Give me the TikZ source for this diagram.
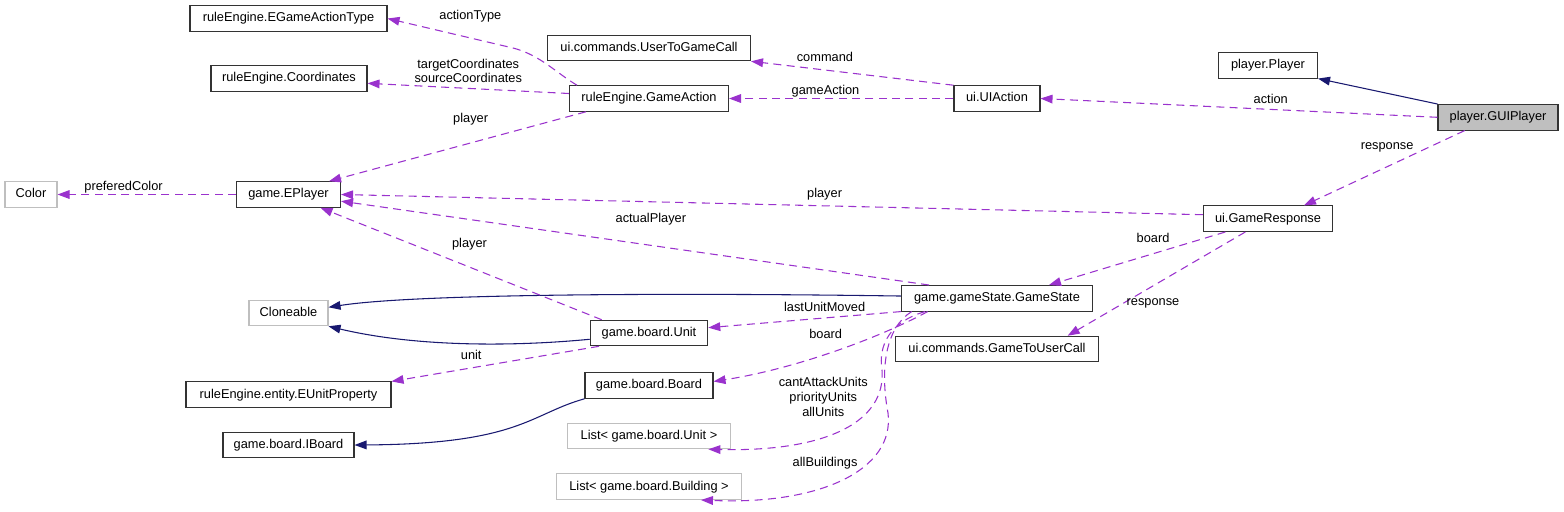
\documentclass[tikz,border=0pt]{standalone}
\usepackage{fontspec}
\setmainfont{Liberation Sans}
\usetikzlibrary{arrows.meta}
\definecolor{cEdge}{HTML}{9A32CD}
\definecolor{cInh}{HTML}{191970}
\definecolor{cGrey}{HTML}{BFBFBF}
\newlength{\pxu}\setlength{\pxu}{0.75pt}
\tikzset{
  base/.style   ={draw=black!80, line width=0.8pt, font=\fontsize{9.6}{11}\selectfont,
                  minimum height=25.5\pxu, inner sep=0pt, text height=7pt, text depth=2pt},
  cls/.style    ={base},
  ext/.style    ={base, draw=cGrey},
  cur/.style    ={base, fill=cGrey},
  usage/.style  ={draw=cEdge, line width=0.8pt, dash pattern=on 6pt off 4pt,
                  -{Triangle[length=9pt,width=6.5pt]}},
  inherit/.style={draw=cInh, line width=0.8pt, -{Triangle[length=9pt,width=6.5pt]}},
  lbl/.style    ={font=\fontsize{9.6}{11}\selectfont, inner sep=1pt, align=center},
}

\begin{document}
\begin{tikzpicture}[x=0.75pt, y=-0.75pt]
\useasboundingbox (0,0) rectangle (1564,511);

\node[cls, minimum width=197\pxu] (eatype)  at (288.5,18.5) {ruleEngine.EGameActionType};
\node[cls, minimum width=156\pxu] (coords)  at (289,78.3)   {ruleEngine.Coordinates};
\node[ext, minimum width=52\pxu]  (color)   at (31,194.5)   {Color};
\node[cls, minimum width=104\pxu] (eplayer) at (288.5,194.5) {game.EPlayer};
\node[ext, minimum width=79\pxu]  (clone)   at (288.5,313)  {Cloneable};
\node[cls, minimum width=205\pxu] (eunit)   at (288.5,394.7) {ruleEngine.entity.EUnitProperty};
\node[cls, minimum width=131\pxu] (iboard)  at (288.5,445)  {game.board.IBoard};

\node[cls, minimum width=203\pxu] (u2g)     at (649,48)     {ui.commands.UserToGameCall};
\node[cls, minimum width=159\pxu] (gaction) at (649,98.5)   {ruleEngine.GameAction};
\node[cls, minimum width=117.5\pxu] (unit)  at (649,333)    {game.board.Unit};
\node[cls, minimum width=128\pxu] (board)   at (649,385.5)  {game.board.Board};
\node[ext, minimum width=163\pxu] (lunit)   at (649,436)    {List< game.board.Unit >};
\node[ext, minimum width=185.5\pxu] (lbuild) at (649,486.7) {List< game.board.Building >};

\node[cls, minimum width=86\pxu]  (uiact)   at (997,98.5)   {ui.UIAction};
\node[cls, minimum width=191\pxu] (gstate)  at (997,298.3)  {game.gameState.GameState};
\node[cls, minimum width=203\pxu] (g2u)     at (997,349)    {ui.commands.GameToUserCall};

\node[cls, minimum width=99\pxu]  (player)  at (1268,65.3)  {player.Player};
\node[cls, minimum width=129\pxu] (gresp)   at (1268,218.7) {ui.GameResponse};
\node[cur, minimum width=120\pxu] (gui)     at (1498,117.3) {player.GUIPlayer};

\draw[inherit] (gui.north west) -- (player.south east);
\draw[inherit] ([yshift=1.7pt]gstate.west) .. controls (700,293) and (420,293) .. ([yshift=4.3pt]clone.east);
\draw[inherit] ([yshift=-4.7pt]unit.west) .. controls (520,346) and (420,348) .. (clone.south east);
\draw[inherit] (board.south west) .. controls (530,414) and (520,444) .. (iboard.east);

\draw[usage] (gui.west) -- node[lbl, pos=0.42, yshift=7.8pt] {action} (uiact.east);
\draw[usage] ([xshift=-25pt]gui.south) -- node[lbl, pos=0.25, xshift=-28pt, yshift=1.5pt] {response} ([xshift=27pt]gresp.north);
\draw[usage] (uiact.north west) -- node[lbl, pos=0.635, yshift=9.7pt] {command} (u2g.south east);
\draw[usage] (uiact.west) -- node[lbl, pos=0.57, yshift=5.6pt] {gameAction} (gaction.east);
\draw[usage] ([xshift=6pt]gaction.north west) .. controls (555,72) and (540,55) .. (513,48)
   -- node[lbl, pos=0.34, yshift=16.5pt] {actionType} (eatype.east);
\draw[usage] ([yshift=3.75pt]gaction.west) -- node[lbl, pos=0.5, yshift=13pt] {targetCoordinates\\sourceCoordinates} ([yshift=-3.75pt]coords.east);
\draw[usage] ([xshift=12.75pt]gaction.south west) -- node[lbl, pos=0.449, yshift=17.8pt] {player} ([xshift=-9pt]eplayer.north east);
\draw[usage] (eplayer.west) -- node[lbl, pos=0.63, yshift=5.5pt] {preferedColor} (color.east);
\draw[usage] ([yshift=3pt]gresp.west) -- node[lbl, pos=0.439, yshift=8.9pt] {player} (eplayer.east);
\draw[usage] ([xshift=21pt]gstate.north west) -- node[lbl, pos=0.473, yshift=20pt] {actualPlayer} ([yshift=-5pt]eplayer.east);
\draw[usage] ([xshift=9pt]unit.north west) -- node[lbl, pos=0.47, yshift=17.4pt] {player} ([xshift=24pt]eplayer.south);
\draw[usage] ([xshift=-32pt]gresp.south) -- node[lbl, pos=0.41, yshift=11.7pt] {board} ([xshift=39pt]gstate.north);
\draw[usage] ([xshift=-17pt]gresp.south) -- node[lbl, pos=0.52, yshift=-12.8pt] {response} ([xshift=53pt]g2u.north);
\draw[usage] (gstate.south west) -- node[lbl, pos=0.396, yshift=8pt] {lastUnitMoved} ([yshift=4pt]unit.east);
\draw[usage] ([xshift=7pt]unit.south west) -- node[lbl, pos=0.616, yshift=9.9pt] {unit} (eunit.north east);
\draw[usage] ([xshift=20pt]gstate.south west) .. controls (885,335) and (800,368) ..
   node[lbl, pos=0.55, yshift=15pt] {board} ([yshift=3pt]board.east);
\draw[usage] ([xshift=18pt]gstate.south west) .. controls (890,322) and (878,345) .. (882,370)
   .. controls (886,420) and (830,452) .. node[lbl, pos=0.3, xshift=-34.5pt, yshift=9.5pt] {cantAttackUnits\\priorityUnits\\allUnits} ([xshift=-17pt]lunit.south east);
\draw[usage] ([xshift=8pt]gstate.south west) .. controls (885,328) and (880,370) .. (888,413)
   .. controls (895,470) and (820,505) .. node[lbl, pos=0.35, xshift=-31.3pt, yshift=0.5pt] {allBuildings} ([xshift=-31pt]lbuild.south east);
\end{tikzpicture}
\end{document}
